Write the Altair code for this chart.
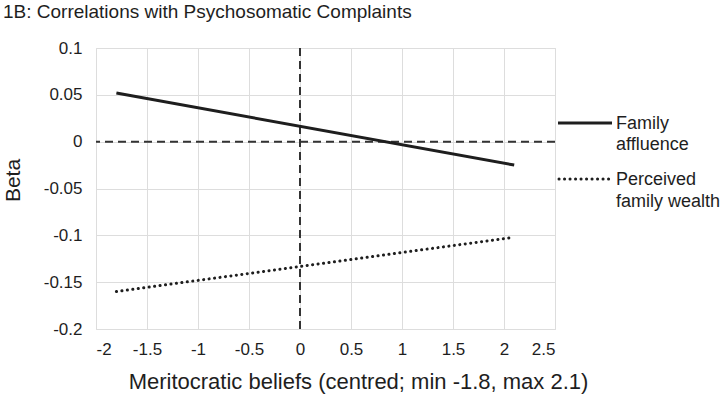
import altair as alt
import pandas as pd

# Estimated simple slopes of beta across meritocratic beliefs
belief_ends = [-1.8, 2.1]
family_affluence = [0.052, -0.025]
perceived_wealth = [-0.16, -0.102]

x_ticks = [-2, -1.5, -1, -0.5, 0, 0.5, 1, 1.5, 2, 2.5]
y_ticks = [-0.2, -0.15, -0.1, -0.05, 0, 0.05, 0.1]

FONT = "Liberation Sans"
INK = "#1e1e1e"

df = pd.DataFrame({
    "belief": belief_ends * 2,
    "beta": family_affluence + perceived_wealth,
    "series": ["Family affluence"] * 2 + ["Perceived family wealth"] * 2,
})

label_expr = "replace(format(datum.value, '~g'), '\u2212', '-')"

x_scale = alt.Scale(domain=[-2, 2.5], nice=False, zero=False)
y_scale = alt.Scale(domain=[-0.2, 0.1], nice=False, zero=False)

x_axis = alt.Axis(
    values=x_ticks, labelExpr=label_expr, grid=True, domain=False, ticks=False,
    labelPadding=12, labelFontSize=17, labelColor=INK, labelFont=FONT,
    title="Meritocratic beliefs (centred; min -1.8, max 2.1)",
    titleFontSize=22, titleFont=FONT, titleFontWeight="normal", titleColor=INK,
    titleY=59, titleBaseline="alphabetic", titleX=262,
)
y_axis = alt.Axis(
    values=y_ticks, labelExpr=label_expr, grid=True, domain=False, ticks=False,
    labelPadding=14, labelFontSize=17, labelColor=INK, labelFont=FONT,
    title="Beta", titleFontSize=21, titleFont=FONT, titleFontWeight="normal",
    titleColor=INK, titleX=-77, titleY=132, titleBaseline="alphabetic",
)

base = alt.Chart(df)

solid = base.transform_filter(alt.datum.series == "Family affluence").mark_line(
    color=INK, strokeWidth=3
).encode(
    x=alt.X("belief:Q", scale=x_scale, axis=x_axis),
    y=alt.Y("beta:Q", scale=y_scale, axis=y_axis),
)

dotted = base.transform_filter(alt.datum.series == "Perceived family wealth").mark_line(
    color=INK, strokeWidth=3, strokeDash=[0.1, 5.4], strokeCap="round"
).encode(
    x=alt.X("belief:Q", scale=x_scale),
    y=alt.Y("beta:Q", scale=y_scale),
)

# Reference lines at zero on both axes
zero_df = pd.DataFrame({"v": [0]})
vzero = alt.Chart(zero_df).mark_rule(color="#333333", strokeWidth=2, strokeDash=[8, 5]).encode(
    x=alt.X("v:Q", scale=x_scale)
)
hzero = alt.Chart(zero_df).mark_rule(color="#333333", strokeWidth=2, strokeDash=[8, 5]).encode(
    y=alt.Y("v:Q", scale=y_scale)
)

# Legend drawn beside the plot
leg_solid = alt.Chart(zero_df).mark_rule(color=INK, strokeWidth=3).encode(
    x=alt.value(462), x2=alt.value(516), y=alt.value(75)
)
leg_dot = alt.Chart(zero_df).mark_rule(
    color=INK, strokeWidth=3, strokeDash=[0.1, 5.4], strokeCap="round"
).encode(x=alt.value(463), x2=alt.value(516), y=alt.value(131))


def leg_text(txt, y):
    return alt.Chart(zero_df).mark_text(
        align="left", baseline="alphabetic", font=FONT, fontSize=18, color=INK
    ).encode(x=alt.value(520), y=alt.value(y), text=alt.value(txt))


chart = alt.layer(
    vzero, hzero, solid, dotted, leg_solid, leg_dot,
    leg_text("Family", 80.5), leg_text("affluence", 101.5),
    leg_text("Perceived", 137), leg_text("family wealth", 158.5),
).properties(
    width=459, height=281,
    title=alt.TitleParams(
        "1B: Correlations with Psychosomatic Complaints",
        anchor="start", frame="group", dx=-93, offset=17,
        fontSize=19, font=FONT, fontWeight="normal", color=INK,
    ),
    autosize=alt.AutoSizeParams(type="none"),
    padding={"left": 96, "top": 48, "right": 170, "bottom": 65},
).configure_view(stroke=None).configure_axis(
    gridColor="#c4c4c4", gridDash=[2, 2], gridWidth=1
).configure(background="white")

chart.save("out.html", embed_options={"renderer": "svg", "actions": False})
